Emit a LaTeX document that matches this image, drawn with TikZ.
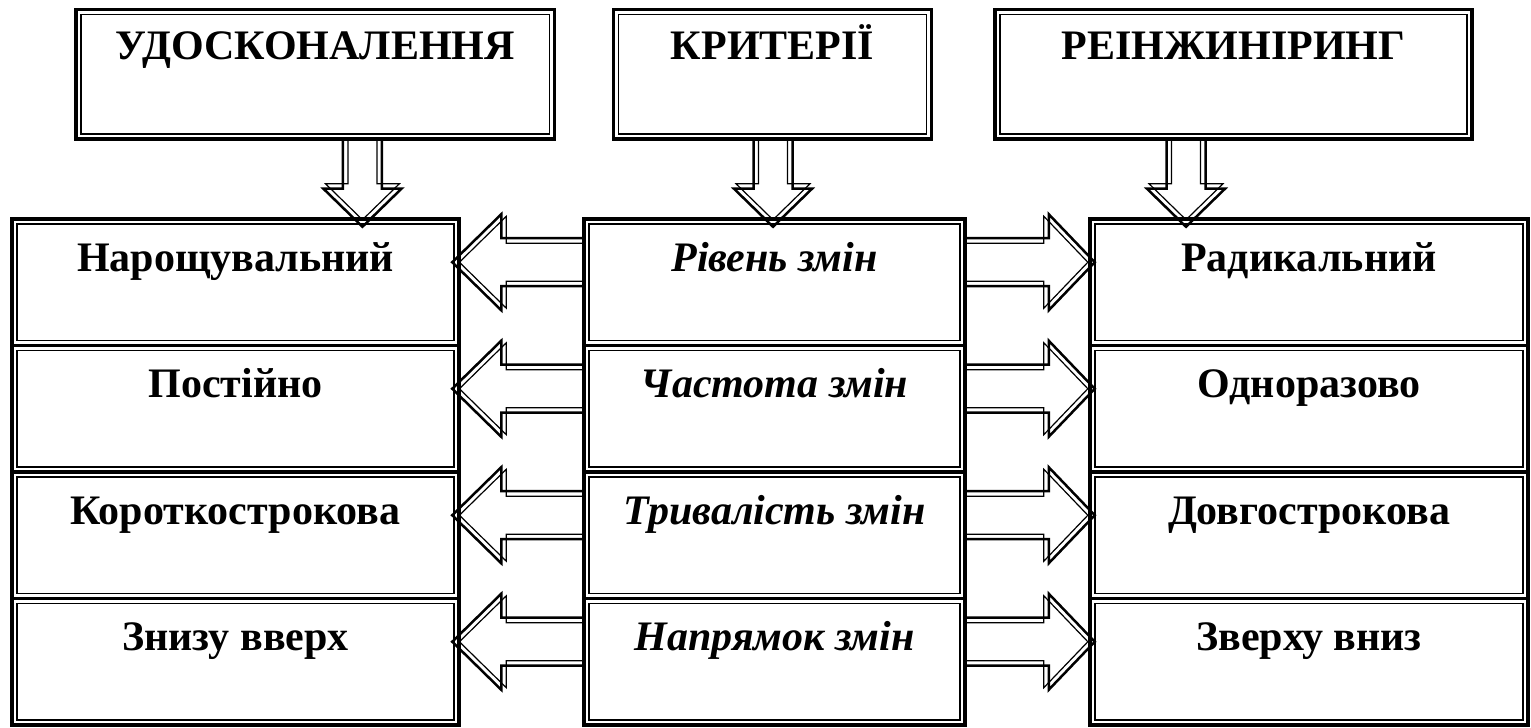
\documentclass[tikz,border=0pt]{standalone}
\usepackage{fontspec}
\setmainfont{Liberation Serif}
\tikzset{
  arrout/.style={line width=1.25pt, line join=miter},
  arrin/.style={line width=0.6pt, line join=miter},
  pics/barrow/.style n args={4}{code={
    \pgfmathsetmacro\bL{#1}\pgfmathsetmacro\bh{#2}\pgfmathsetmacro\bW{#3}\pgfmathsetmacro\bw{#4}
    \pgfmathsetmacro\bs{sqrt(\bh*\bh+\bW*\bW)}
    \pgfmathsetmacro\bd{5}
    \pgfmathsetmacro\btip{\bL-\bd*\bs/\bW}
    \pgfmathsetmacro\bcy{\bW-\bd*(\bs-\bW)/\bh}
    \pgfmathsetmacro\bx{\bL-\bh}
    \pgfmathsetmacro\bxi{\bL-\bh-\bd}
    \pgfmathsetmacro\bwi{\bw-\bd}
    \draw[arrout] (0,\bw) -- (\bx,\bw) -- (\bx,\bW) -- (\bL,0) -- (\bx,-\bW) -- (\bx,-\bw) -- (0,-\bw);
    \draw[arrin] (0,\bwi) -- (\bxi,\bwi) -- (\bxi,\bcy) -- (\btip,0) -- (\bxi,-\bcy) -- (\bxi,-\bwi) -- (0,-\bwi);
  }},
  dbox/.style={draw, line width=1.75pt, inner sep=0pt,
    path picture={\draw[line width=0.75pt]
      ([shift={(2.5pt,2.5pt)}]path picture bounding box.south west) rectangle
      ([shift={(-2.5pt,-2.5pt)}]path picture bounding box.north east);}},
  topbox/.style={dbox, minimum height=64.75pt},
  rowbox/.style={dbox, minimum height=63.25pt},
  ttxt/.style={anchor=base, inner sep=0pt, font=\fontsize{21}{25}\selectfont\bfseries},
  itxt/.style={anchor=base, inner sep=0pt, font=\fontsize{21}{25}\selectfont\bfseries\itshape}
}
\begin{document}
\begin{tikzpicture}[x=0.5pt,y=0.5pt]
\useasboundingbox (0,0) rectangle (1531,728);
% top boxes
\node[topbox, minimum width=239.25pt] (tU) at (315.25,653.75) {};
\node[topbox, minimum width=159pt] (tK) at (772.5,653.75) {};
\node[topbox, minimum width=238.5pt] (tR) at (1233.5,653.75) {};
\node[ttxt] (tUt) at (315.25,668) {УДОСКОНАЛЕННЯ};
\node[ttxt] (tKt) at (772.5,668) {КРИТЕРІЇ};
\node[ttxt] (tRt) at (1233.5,668) {РЕІНЖИНІРИНГ};
% rows
\foreach \i/\cy in {1/445.75,2/319.25,3/192.75,4/66.25}{
  \node[rowbox, minimum width=223.5pt] (l\i) at (235.5,\cy) {};
  \node[rowbox, minimum width=190.5pt] (m\i) at (774.5,\cy) {};
  \node[rowbox, minimum width=219pt] (r\i) at (1309,\cy) {};
}
\node[ttxt] (l1t) at (235.5,456.5) {Нарощувальний};
\node[ttxt] (l2t) at (235.5,330) {Постійно};
\node[ttxt] (l3t) at (235.5,203.5) {Короткострокова};
\node[ttxt] (l4t) at (235.5,77) {Знизу вверх};
\node[itxt] (m1t) at (774.5,456.5) {Рівень змін};
\node[itxt] (m2t) at (774.5,330) {Частота змін};
\node[itxt] (m3t) at (774.5,203.5) {Тривалість змін};
\node[itxt] (m4t) at (774.5,77) {Напрямок змін};
\node[ttxt] (r1t) at (1309,456.5) {Радикальний};
\node[ttxt] (r2t) at (1309,330) {Одноразово};
\node[ttxt] (r3t) at (1309,203.5) {Довгострокова};
\node[ttxt] (r4t) at (1309,77) {Зверху вниз};
% down arrows
\pic[rotate=-90] at ([xshift=23.6pt]tU.south) {barrow={86}{38}{39}{19.5}};
\pic[rotate=-90] at ([xshift=0.25pt]tK.south) {barrow={86}{38}{39}{19.5}};
\pic[rotate=-90] at ([xshift=-23.75pt]tR.south) {barrow={86}{38}{39}{19.5}};
% horizontal arrows
\foreach \i in {1,2,3,4}{
  \pic[rotate=180] at ([yshift=-22.5pt]m\i.north west) {barrow={130}{49}{48}{24}};
  \pic at ([yshift=-22.5pt]m\i.north east) {barrow={128}{46}{48}{24}};
}
\end{tikzpicture}
\end{document}
